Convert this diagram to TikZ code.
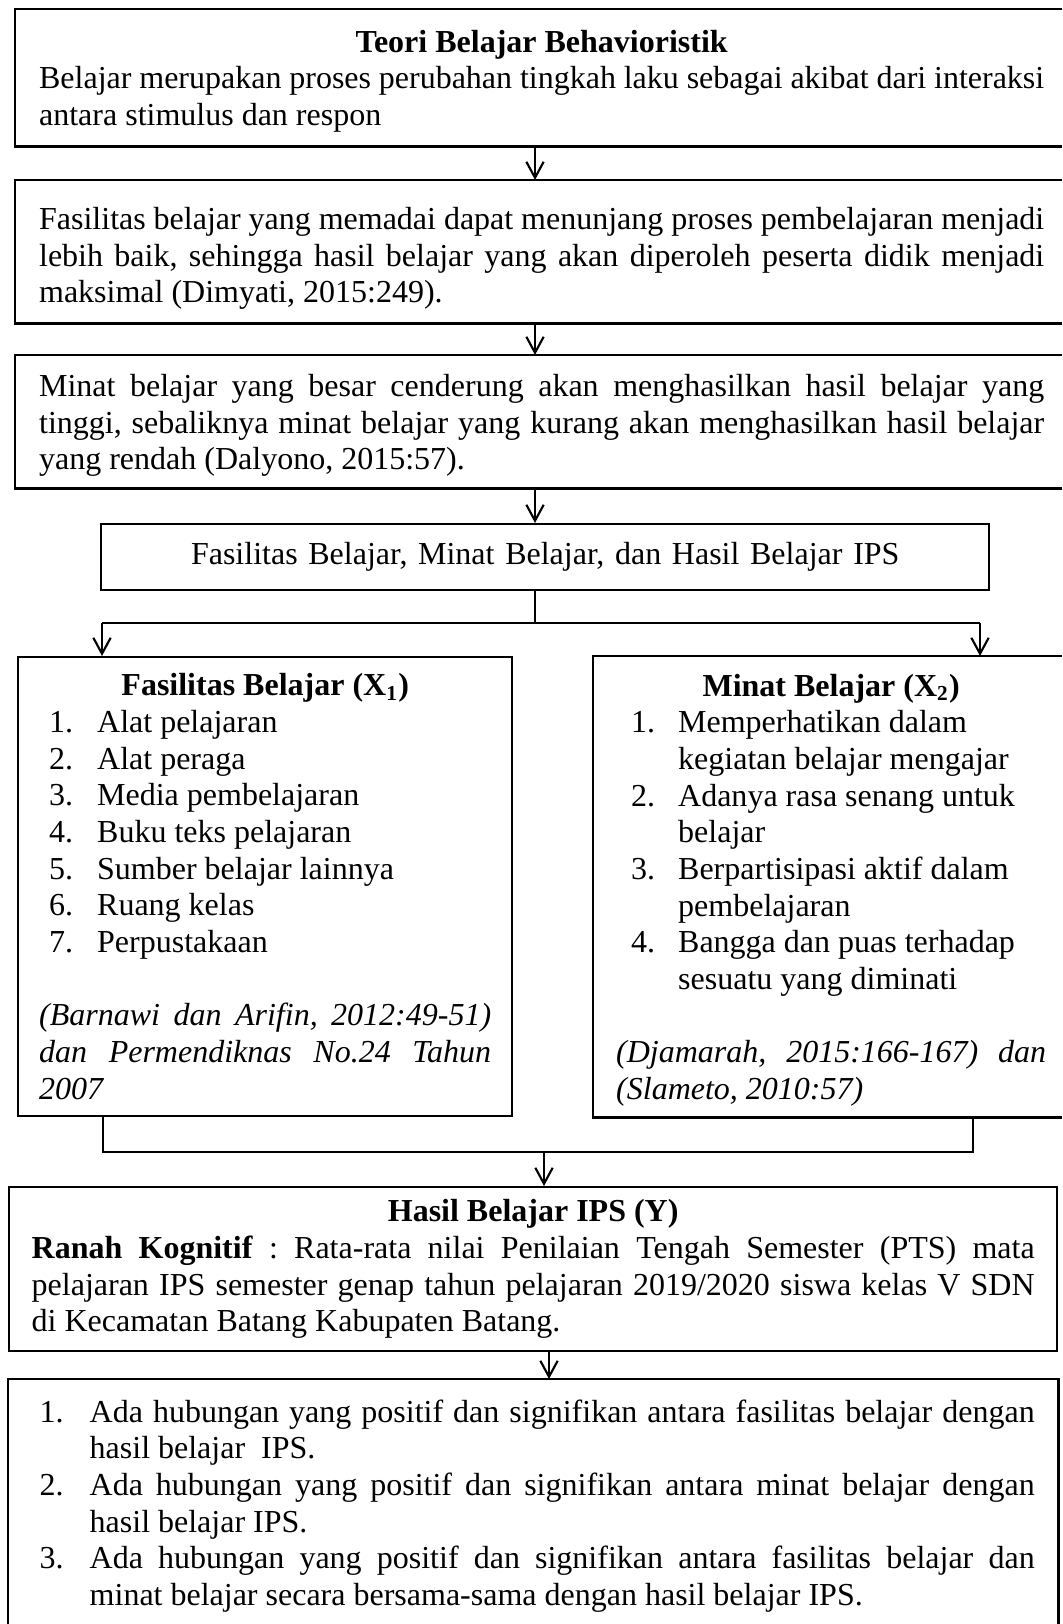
\documentclass[tikz,border=0pt]{standalone}
\usepackage{fontspec}
\setmainfont{Liberation Serif}
\usetikzlibrary{arrows.meta}
\setlength{\parindent}{0pt}
\frenchspacing
\hyphenpenalty=10000 \exhyphenpenalty=10000 \tolerance=9999
% butir daftar: geser nomor, lebar gantung, nomor
\newcommand{\butir}[3]{\par\hangindent=#2\hangafter=1\noindent\hbox to #2{\hspace*{#1}#3\hfil}}
\tikzset{
 bingkai/.style={line width=0.9pt},
 kotak/.style={draw,bingkai,anchor=north west,align=justify,inner ysep=2pt,
  font=\fontsize{12}{13.75}\selectfont},
 terpotong/.style={kotak,draw=none},
 garis/.style={line width=0.8pt},
 panah/.style={garis,-{Straight Barb[length=6pt,width=6.5pt]}}
}
\begin{document}
\begin{tikzpicture}[x=0.375pt,y=-0.375pt]
 \useasboundingbox (0,0) rectangle (1062,1624);
 \fill[white] (0,0) rectangle (1062,1624);
 \coordinate (kanan) at (1062,0);%tepi kanan gambar
 \coordinate (bawah) at (0,1624);%tepi bawah gambar
 \coordinate (kol) at (535,0);%kolom panah atas
 \coordinate (kol2) at (549,0);
 \path
 (15,9) node[terpotong,text width=376.9pt,inner xsep=8.6pt,minimum height=50.6pt] (teori)
  {{\centering\bfseries\rule{0pt}{11pt}Teori Belajar Behavioristik\par}
  Belajar merupakan proses perubahan tingkah laku sebagai akibat dari interaksi\linebreak
  antara stimulus dan respon\par}
 (15,180) node[terpotong,text width=376.9pt,inner xsep=8.6pt,minimum height=52.9pt] (fasil)
  {\rule{0pt}{13.5pt}Fasilitas belajar yang memadai dapat menunjang proses pembelajaran menjadi\linebreak
  lebih baik, sehingga hasil belajar yang akan diperoleh peserta didik menjadi\linebreak
  maksimal (Dimyati, 2015:249).\par}
 (15,355) node[terpotong,text width=376.9pt,inner xsep=8.6pt,minimum height=49.1pt] (minat)
  {\rule{0pt}{11.2pt}Minat belajar yang besar cenderung akan menghasilkan hasil belajar yang\linebreak
  tinggi, sebaliknya minat belajar yang kurang akan menghasilkan hasil belajar\linebreak
  yang rendah (Dalyono, 2015:57).\par}
 (100,523) node[kotak,text width=315pt,inner xsep=9pt,minimum height=24.75pt,align=center] (judul)
  {Fasilitas Belajar, Minat Belajar, dan Hasil Belajar IPS}
 (17,656) node[kotak,text width=169.5pt,inner xsep=7.875pt,minimum height=172.1pt] (vx)
  {{\centering\bfseries Fasilitas Belajar (X\textsubscript{1})\par}
  \butir{3.75pt}{21.75pt}{1.}Alat pelajaran
  \butir{3.75pt}{21.75pt}{2.}Alat peraga
  \butir{3.75pt}{21.75pt}{3.}Media pembelajaran
  \butir{3.75pt}{21.75pt}{4.}Buku teks pelajaran
  \butir{3.75pt}{21.75pt}{5.}Sumber belajar lainnya
  \butir{3.75pt}{21.75pt}{6.}Ruang kelas
  \butir{3.75pt}{21.75pt}{7.}Perpustakaan\par
  \vspace{\baselineskip}
  {\itshape (Barnawi dan Arifin, 2012:49-51)\linebreak dan Permendiknas No.24 Tahun\linebreak 2007\par}}
 (593,656) node[terpotong,text width=161.25pt,inner xsep=8.25pt,minimum height=172.1pt] (vy)
  {{\centering\bfseries Minat Belajar (X\textsubscript{2})\par}
  \butir{5.6pt}{23.25pt}{1.}Memperhatikan dalam\newline kegiatan belajar mengajar
  \butir{5.6pt}{23.25pt}{2.}Adanya rasa senang untuk\newline belajar
  \butir{5.6pt}{23.25pt}{3.}Berpartisipasi aktif dalam\newline pembelajaran
  \butir{5.6pt}{23.25pt}{4.}Bangga dan puas terhadap\newline sesuatu yang diminati\par
  \vspace{\baselineskip}
  {\itshape (Djamarah, 2015:166-167) dan\linebreak \raisebox{0pt}[\height][0pt]{(Slameto, 2010:57)}\par}}
 (8,1186) node[kotak,text width=376.1pt,inner xsep=8.44pt,minimum height=61.5pt] (hasil)
  {{\centering\bfseries Hasil Belajar IPS (Y)\par}
  \textbf{Ranah Kognitif} : Rata-rata nilai Penilaian Tengah Semester (PTS) mata\linebreak
  pelajaran IPS semester genap tahun pelajaran 2019/2020 siswa kelas V SDN\linebreak
  di Kecamatan Batang Kabupaten Batang.\par}
 (8,1379) node[terpotong,text width=376.1pt,inner xsep=8.44pt,minimum height=85.1pt] (hipo)
  {\butir{3pt}{21.75pt}{1.}Ada hubungan yang positif dan signifikan antara fasilitas belajar dengan\linebreak hasil belajar\ \ IPS.
  \butir{3pt}{21.75pt}{2.}Ada hubungan yang positif dan signifikan antara minat belajar dengan\linebreak hasil belajar IPS.
  \butir{3pt}{21.75pt}{3.}Ada hubungan yang positif dan signifikan antara fasilitas belajar dan\linebreak minat belajar secara bersama-sama dengan hasil belajar IPS.\par}
 ;
 % kotak yang terpotong tepi gambar
 \foreach \n in {teori,fasil,minat,vy}
 \draw[bingkai] (kanan |- \n.north)--(\n.north west)--(\n.south west)--(kanan |- \n.south);
 \draw[bingkai] (hipo.west |- bawah)--(hipo.north west)--(hipo.north east)--(hipo.east |- bawah);
 % cabang dan gabungan
 \coordinate (cab) at (535,623);
 \coordinate (cabki) at (102,623);
 \coordinate (cabka) at (980,623);
 \coordinate (gabki) at (103,1152);
 \coordinate (gabka) at (973,1152);
 \coordinate (gab) at (544,1152);
 \foreach \a/\b in {teori/fasil,fasil/minat,minat/judul}
 \draw[panah] (\a.south -| kol)--(\b.north -| kol);
 \draw[garis] (judul.south -| kol)--(cab) (cabki)--(cabka);
 \draw[panah] (cabki)--(vx.north -| cabki);
 \draw[panah] (cabka)--(vy.north -| cabka);
 \draw[garis] (vx.south -| gabki)--(gabki)--(gabka)--(vy.south -| gabka);
 \draw[panah] (gab)--(hasil.north -| gab);
 \draw[panah] (hasil.south -| kol2)--(hipo.north -| kol2);
\end{tikzpicture}
\end{document}
